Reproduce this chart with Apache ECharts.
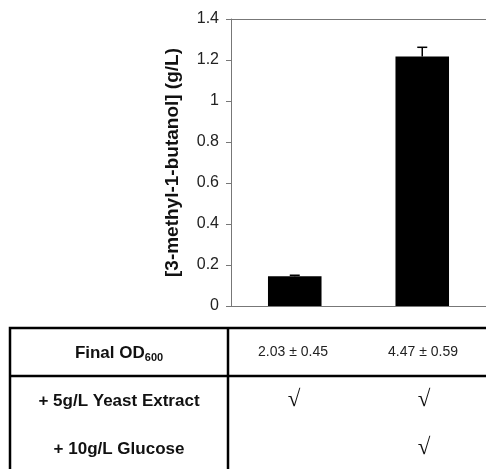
<!DOCTYPE html>
<html>
<head>
<meta charset="utf-8">
<script src="https://cdn.jsdelivr.net/npm/echarts@6/dist/echarts.min.js"></script>
<style>
  html, body { margin: 0; padding: 0; background: #fff; }
  #main { width: 486px; height: 469px; }
</style>
</head>
<body>
<div id="main"></div>
<script>
// chart values
var categories = ['Yeast extract', 'Yeast extract + glucose'];
var butanolValues = [0.145, 1.217];
var butanolErrors = [0.005, 0.045];
var yTicks = { min: 0, max: 1.4, interval: 0.2 };

// table under the chart
var odLabels = ['2.03 \u00b1 0.45', '4.47 \u00b1 0.59'];
var rowLabels = ['+ 5g/L Yeast Extract', '+ 10g/L Glucose'];
var rowChecks = [[true, true], [false, true]];

var FONT = '"Liberation Sans", Arial, sans-serif';

var myChart = echarts.init(document.getElementById('main'));

// table geometry
var tLeft = 10, tTop = 328, tDiv = 228, tRow = 376, tBottom = 480, tRight = 500;
var colX = [293, 423];
var rowY = [401, 449];

var graphics = [
  { type: 'rect', shape: { x: tLeft, y: tTop, width: tRight - tLeft, height: tBottom - tTop },
    style: { fill: 'none', stroke: '#000', lineWidth: 2.5 } },
  { type: 'line', shape: { x1: tDiv, y1: tTop, x2: tDiv, y2: tBottom }, style: { stroke: '#000', lineWidth: 2.5 } },
  { type: 'line', shape: { x1: tLeft, y1: tRow, x2: tRight, y2: tRow }, style: { stroke: '#000', lineWidth: 2.5 } },
  { type: 'text', x: 119, y: 353,
    style: { text: '{b|Final OD}{s|600}', rich: {
      b: { fontFamily: FONT, fontWeight: 'bold', fontSize: 17, fill: '#111' },
      s: { fontFamily: FONT, fontWeight: 'bold', fontSize: 11, fill: '#111', padding: [9, 0, 0, 0] }
    }, align: 'center', verticalAlign: 'middle' } }
];

odLabels.forEach(function (t, i) {
  graphics.push({ type: 'text', x: colX[i], y: 352,
    style: { text: t, fontFamily: FONT, fontSize: 14, fill: '#222', align: 'center', verticalAlign: 'middle' } });
});

rowLabels.forEach(function (t, r) {
  graphics.push({ type: 'text', x: 119, y: rowY[r],
    style: { text: t, fontFamily: FONT, fontWeight: 'bold', fontSize: 17, fill: '#111', align: 'center', verticalAlign: 'middle' } });
  rowChecks[r].forEach(function (c, i) {
    if (!c) return;
    graphics.push({ type: 'text', x: colX[i] + 1, y: rowY[r] - 1,
      style: { text: '\u221a', fontFamily: '"Liberation Serif", serif', fontSize: 23, fill: '#111', align: 'center', verticalAlign: 'middle' } });
  });
});

var option = {
  backgroundColor: '#fff',
  animation: false,
  grid: { left: 231, right: -3, top: 19, bottom: 163 },
  xAxis: {
    type: 'category',
    data: categories,
    axisLine: { lineStyle: { color: '#777', width: 1 } },
    axisTick: { show: false },
    axisLabel: { show: false },
    splitLine: { show: false }
  },
  yAxis: {
    type: 'value',
    min: yTicks.min,
    max: yTicks.max,
    interval: yTicks.interval,
    name: '[3-methyl-1-butanol] (g/L)',
    nameLocation: 'middle',
    nameGap: 49,
    nameTextStyle: { fontFamily: FONT, fontWeight: 'bold', fontSize: 19, color: '#111' },
    axisLine: { show: true, lineStyle: { color: '#777', width: 1 } },
    axisTick: { show: true, inside: false, length: 5, lineStyle: { color: '#777' } },
    axisLabel: { fontFamily: FONT, fontSize: 16, color: '#222', margin: 12 },
    splitLine: { show: false }
  },
  series: [
    {
      type: 'bar',
      data: butanolValues,
      barWidth: '42%',
      itemStyle: { color: '#000' }
    },
    {
      type: 'custom',
      data: butanolValues.map(function (v, i) { return [i, v, butanolErrors[i]]; }),
      z: 5,
      renderItem: function (params, api) {
        var x = api.value(0), v = api.value(1), e = api.value(2);
        var top = api.coord([x, v + e]);
        var bot = api.coord([x, v]);
        var hw = 5;
        return {
          type: 'group',
          children: [
            { type: 'line', shape: { x1: top[0], y1: top[1], x2: bot[0], y2: bot[1] }, style: { stroke: '#000', lineWidth: 1.5 } },
            { type: 'line', shape: { x1: top[0] - hw, y1: top[1], x2: top[0] + hw, y2: top[1] }, style: { stroke: '#000', lineWidth: 1.5 } }
          ]
        };
      }
    }
  ],
  graphic: graphics
};

// top frame line of the plot area
option.graphic.push({ type: 'line', shape: { x1: 231, y1: 19.5, x2: 486, y2: 19.5 }, style: { stroke: '#777', lineWidth: 1 } });

myChart.setOption(option);
</script>
</body>
</html>
